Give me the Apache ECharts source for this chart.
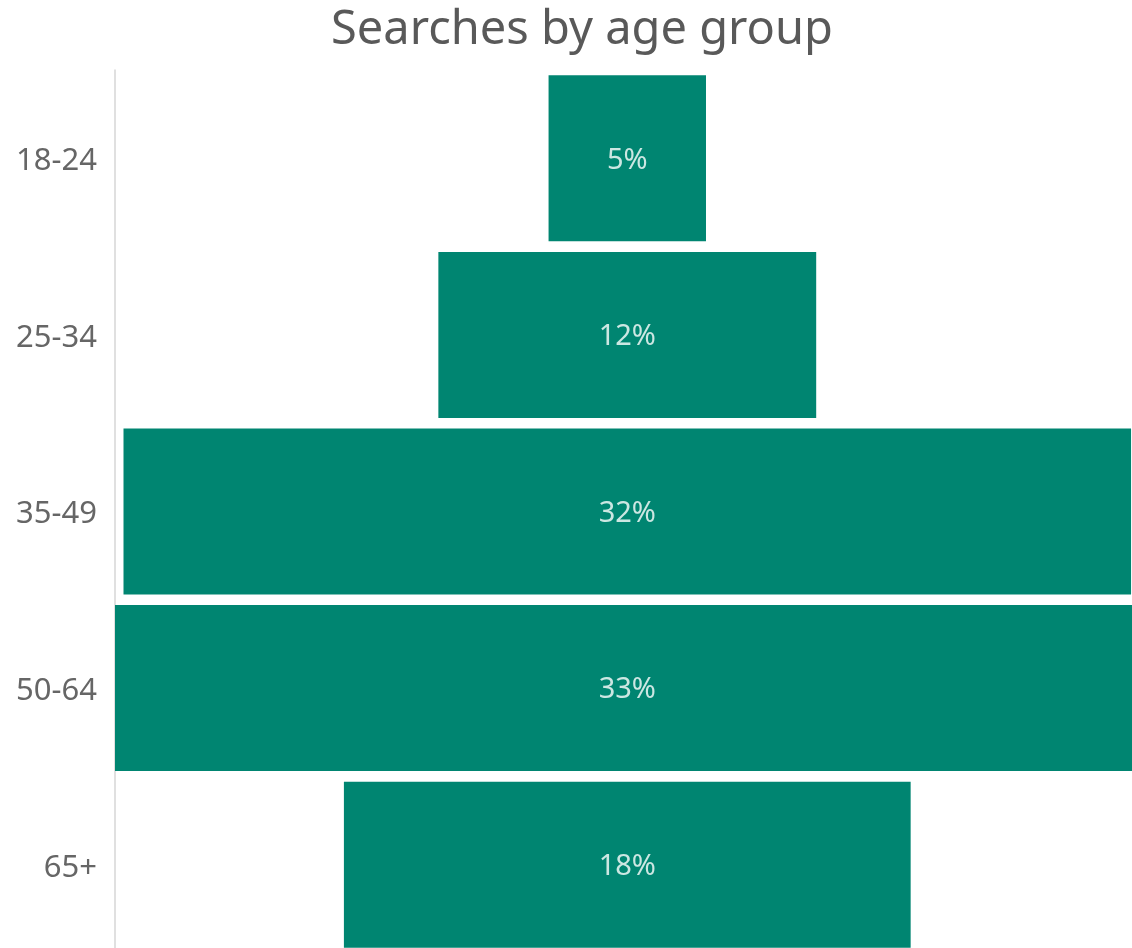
<!DOCTYPE html>
<html>
<head>
<meta charset="utf-8">
<script src="https://cdn.jsdelivr.net/npm/echarts@6/dist/echarts.min.js"></script>
<style>
  html, body { margin: 0; padding: 0; background: #ffffff; }
  #chart { width: 1132px; height: 948px; }
</style>
</head>
<body>
<div id="chart"></div>
<script>
// Share of searches per age group (percent)
const ageGroups = ['18-24', '25-34', '35-49', '50-64', '65+'];
const shares = [5, 12, 32, 33, 18];

// Funnel-style centring: each bar sits on an invisible spacer
const axisMax = 32.3;
const centre = 16.27;
const spacers = shares.map(v => Math.max(0, centre - v / 2));
// Value labels are anchored at the funnel's centre line
const labelPoints = shares.map((v, i) => [centre, ageGroups[i], v]);

const chart = echarts.init(document.getElementById('chart'));
chart.setOption({
  animation: false,
  backgroundColor: '#ffffff',
  title: {
    text: 'Searches by age group',
    left: 577,
    textAlign: 'center',
    top: 2,
    textStyle: {
      fontFamily: 'Noto Sans',
      fontSize: 47,
      fontWeight: 'normal',
      color: '#595959'
    }
  },
  grid: {
    left: 115, width: 1017, top: 70, height: 883,
    containLabel: false,
    outerBoundsMode: 'none'
  },
  xAxis: {
    type: 'value',
    min: 0,
    max: axisMax,
    show: false
  },
  yAxis: {
    type: 'category',
    data: ageGroups,
    inverse: true,
    axisLine: { show: true, lineStyle: { color: '#d6d6d6', width: 1.5 } },
    axisTick: { show: false },
    axisLabel: {
      margin: 18,
      formatter: v => '{g|' + v + '}',
      rich: {
        g: {
          padding: [6, 0, 0, 0],
          fontFamily: 'Noto Sans',
          fontSize: 31,
          color: '#666666'
        }
      }
    }
  },
  series: [
    {
      type: 'bar',
      stack: 'funnel',
      data: spacers,
      itemStyle: { color: 'transparent' },
      silent: true,
      barCategoryGap: '6%'
    },
    {
      type: 'bar',
      stack: 'funnel',
      data: shares,
      clip: true,
      barCategoryGap: '6%',
      itemStyle: { color: '#008571' }
    },
    {
      type: 'scatter',
      data: labelPoints,
      symbolSize: 0,
      silent: true,
      z: 5,
      label: {
        show: true,
        position: 'inside',
        offset: [0, 2],
        formatter: p => p.value[2] + '%',
        fontFamily: 'Noto Sans',
        fontSize: 29,
        color: '#ffffff'
      }
    }
  ]
});
</script>
</body>
</html>
